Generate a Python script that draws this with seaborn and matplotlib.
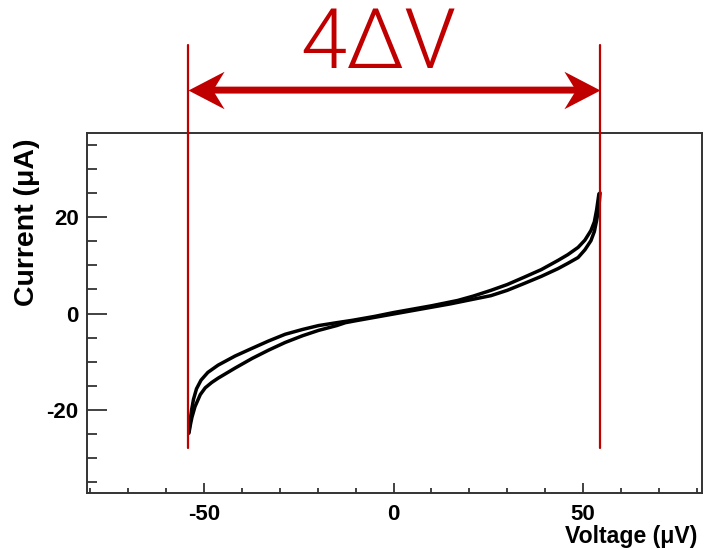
import numpy as np
import pandas as pd
import matplotlib
matplotlib.use("Agg")
import matplotlib.pyplot as plt
from matplotlib.path import Path
import seaborn as sns

# I-V sweep: two branches of the loop (voltage in uV, current in uA)
up_voltage = [-54.0, -53.7, -53.3, -52.8, -52.0, -50.8, -49.0, -46.3, -41.8, -37.3,
              -33.0, -28.6, -24.0, -19.8, -15.0, -10.8, -5.0, 0.0, 5.0, 10.0,
              16.9, 21.0, 25.7, 30.0, 34.4, 39.0, 43.4, 46.0, 48.7, 50.5,
              52.1, 53.0, 53.6, 54.2]
up_current = [-24.5, -22.5, -20.0, -17.8, -15.6, -13.8, -12.2, -10.7, -8.8, -7.2,
              -5.7, -4.3, -3.3, -2.5, -1.9, -1.4, -0.6, 0.2, 0.9, 1.6,
              2.7, 3.6, 4.8, 6.0, 7.5, 9.1, 11.0, 12.2, 13.7, 15.2,
              17.2, 19.0, 21.5, 24.8]

down_voltage = [-54.0, -53.6, -53.2, -52.4, -51.0, -49.7, -48.0, -46.3, -41.8, -37.3,
                -33.0, -28.6, -24.0, -19.8, -15.0, -12.7, -10.0, -5.0, 0.0, 5.0,
                10.0, 15.0, 20.0, 25.7, 30.0, 34.4, 39.0, 43.4, 46.0, 48.7,
                50.5, 52.1, 53.0, 53.6, 54.2, 54.5]
down_current = [-24.8, -23.0, -21.5, -19.3, -16.8, -15.4, -14.3, -13.4, -11.3, -9.3,
                -7.6, -6.0, -4.6, -3.5, -2.5, -1.9, -1.5, -0.8, -0.1, 0.6,
                1.3, 2.0, 2.8, 3.7, 4.8, 6.2, 7.7, 9.3, 10.4, 11.6,
                13.2, 15.1, 17.0, 19.3, 22.0, 25.0]

# Gap edges marked in red (uV)
gap_edges = [-54.2, 54.5]
gap_label = "4\u0394V"

x_ticks_major = [-50, 0, 50]
y_ticks_major = [-20, 0, 20]
x_tick_labels = ["-50", "0", "50"]
y_tick_labels = ["-20", "0", "20"]

df = pd.concat([
    pd.DataFrame({"Voltage": up_voltage, "Current": up_current, "branch": "up"}),
    pd.DataFrame({"Voltage": down_voltage, "Current": down_current, "branch": "down"}),
], ignore_index=True)

sns.set_theme(style="white")
plt.rcParams["font.family"] = ["Liberation Sans", "DejaVu Sans"]

fig = plt.figure(figsize=(7.05, 5.5), dpi=100)
ax = fig.add_axes([0.1234, 0.1036, 0.8723, 0.6545])

sns.lineplot(data=df, x="Voltage", y="Current", hue="branch",
             palette={"up": "black", "down": "black"}, sort=False,
             estimator=None, legend=False, linewidth=2.5, ax=ax)

ax.set_xlim(-80.9, 81.4)
ax.set_ylim(-37.2, 37.4)

frame = "#333333"
for s in ax.spines.values():
    s.set_color(frame)
    s.set_linewidth(1.4)

ax.set_xticks(x_ticks_major)
ax.set_xticks(np.arange(-80, 81, 10), minor=True)
ax.set_yticks(y_ticks_major)
ax.set_yticks(np.arange(-35, 36, 5), minor=True)
ax.set_xticklabels(x_tick_labels, fontweight="bold", color="black")
ax.set_yticklabels(y_tick_labels, fontweight="bold", color="black")

ax.tick_params(axis="x", which="major", direction="in", length=7.5, width=1.3,
               color=frame, bottom=True, top=False, pad=8, labelsize=16)
ax.tick_params(axis="x", which="minor", direction="in", length=3.8, width=1.3,
               color=frame, bottom=True, top=False)
ax.tick_params(axis="y", which="major", direction="in", length=14.5, width=1.3,
               color=frame, left=True, right=False, pad=6, labelsize=16)
ax.tick_params(axis="y", which="minor", direction="in", length=7.2, width=1.3,
               color=frame, left=True, right=False)

ax.set_xlabel("Voltage (\u03bcV)", fontsize=16.6, fontweight="bold", loc="right",
              va="center", color="black")
ax.xaxis.set_label_coords(0.992, -0.122)
ax.set_ylabel("Current (\u03bcA)", fontsize=20.5, fontweight="bold", loc="top",
              va="center", color="black")
ax.yaxis.set_label_coords(-0.098, 0.986)

# Gap annotation in red: edge lines, double arrow with swept-back heads, label
red = "#C00000"
arrow_y = 46.3
for v in gap_edges:
    ax.plot([v, v], [-27.9, 55.6], color=red, lw=1.6, clip_on=False, zorder=5)

head_right = Path([(0, 0), (-1, 0.52), (-0.68, 0), (-1, -0.52), (0, 0)],
                  [Path.MOVETO, Path.LINETO, Path.LINETO, Path.LINETO, Path.CLOSEPOLY])
head_left = Path([(0, 0), (1, 0.52), (0.68, 0), (1, -0.52), (0, 0)],
                 [Path.MOVETO, Path.LINETO, Path.LINETO, Path.LINETO, Path.CLOSEPOLY])

ax.annotate("", xy=(gap_edges[1], arrow_y), xytext=(gap_edges[0], arrow_y),
            xycoords="data", textcoords="data", annotation_clip=False,
            arrowprops=dict(arrowstyle="-", lw=5, color=red,
                            shrinkA=14, shrinkB=14))
ax.plot([gap_edges[1]], [arrow_y], marker=head_right, ms=52, color=red,
        markeredgewidth=0, clip_on=False, zorder=6)
ax.plot([gap_edges[0]], [arrow_y], marker=head_left, ms=52, color=red,
        markeredgewidth=0, clip_on=False, zorder=6)

fig.text(0.536, 0.8764, gap_label, ha="center", va="baseline", color=red,
         fontsize=60, family=["Roboto", "DejaVu Sans"], fontweight=300)

fig.savefig("out.png", dpi=100)
